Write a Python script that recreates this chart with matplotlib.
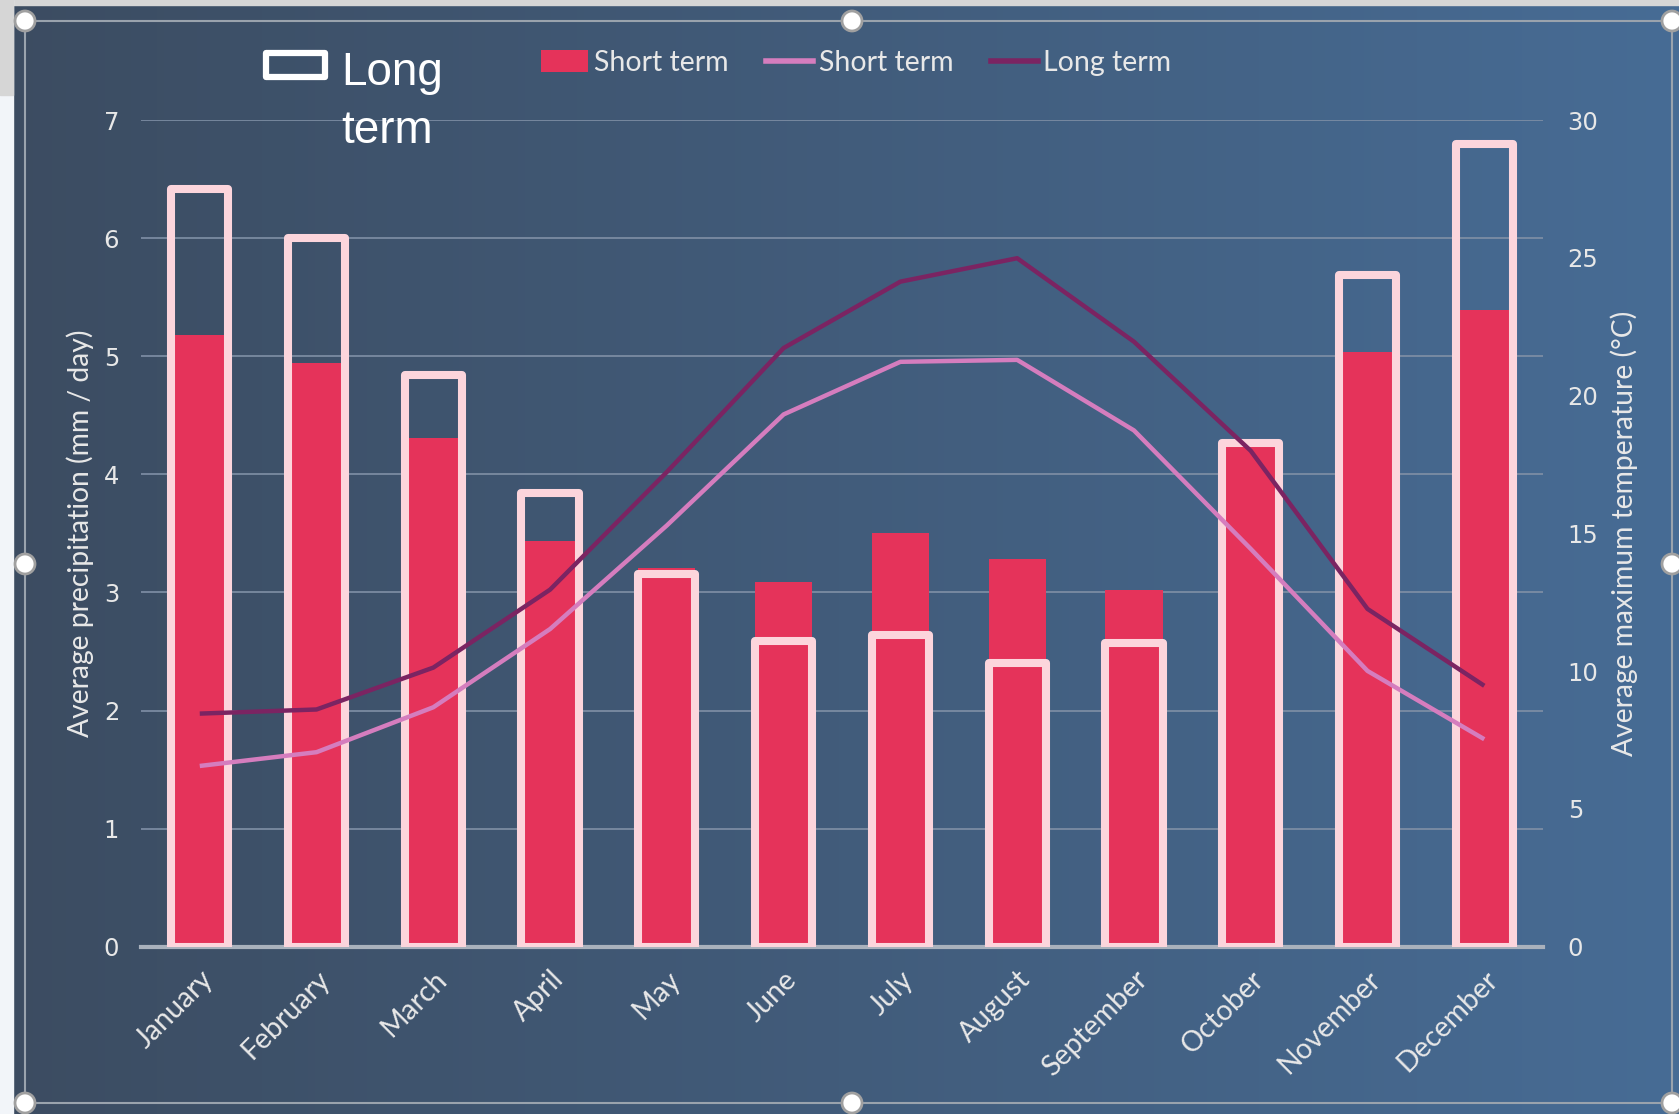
import matplotlib
matplotlib.use("Agg")
import matplotlib.pyplot as plt
import numpy as np
from matplotlib.patches import Rectangle, Circle
from matplotlib.lines import Line2D
from matplotlib.colors import LinearSegmentedColormap

months = ["January", "February", "March", "April", "May", "June", "July",
          "August", "September", "October", "November", "December"]
precip_short = [5.18, 4.94, 4.31, 3.44, 3.21, 3.09, 3.50, 3.28, 3.02, 4.24, 5.04, 5.39]
precip_long = [6.42, 6.00, 4.84, 3.84, 3.16, 2.59, 2.64, 2.40, 2.57, 4.27, 5.69, 6.80]
temp_short = [6.56, 7.06, 8.69, 11.53, 15.29, 19.32, 21.23, 21.30, 18.74, 14.44, 10.01, 7.53]
temp_long = [8.46, 8.61, 10.13, 12.96, 17.23, 21.73, 24.14, 24.99, 21.96, 18.00, 12.26, 9.47]
left_ticks = [0, 1, 2, 3, 4, 5, 6, 7]
right_ticks = [0, 5, 10, 15, 20, 25, 30]

RED = "#E5335A"
OUTLINE = "#FCD5DC"
PINK = "#D57DBE"
PURPLE = "#7B2462"
TXT = "#E8E8E8"

W, H = 1679, 1114
fig = plt.figure(figsize=(W / 100, H / 100), dpi=100)

# background (chart area gradient + screenshot surroundings)
bg = fig.add_axes([0, 0, 1, 1], zorder=-10)
bg.set_axis_off()
grad = np.linspace(0, 1, 256).reshape(1, -1)
cmap = LinearSegmentedColormap.from_list("bg", ["#3C4C61", "#476C95"])
bg.imshow(grad, aspect="auto", cmap=cmap, extent=[0, W, H, 0])
bg.set_xlim(0, W)
bg.set_ylim(H, 0)
bg.add_patch(Rectangle((0, 0), W, 5, color="#D6D6D6"))
bg.add_patch(Rectangle((0, 0), 13, H, color="#F2F5F9"))
bg.add_patch(Rectangle((0, 0), 13, 95, color="#D6D6D6"))
# selection frame of the screenshot
fx0, fy0, fx1, fy1 = 25, 21, 1672, 1103
bg.add_patch(Rectangle((fx0, fy0), fx1 - fx0, fy1 - fy0, fill=False,
                       edgecolor="#9AA3AD", linewidth=1.5))
for hx, hy in [(fx0, fy0), (852, fy0), (fx1, fy0), (fx0, 564), (fx1, 564),
               (fx0, fy1), (852, fy1), (fx1, fy1)]:
    bg.add_patch(Circle((hx, hy), 10, facecolor="white", edgecolor="#A0A0A0",
                        linewidth=2, zorder=5))

# main axes
ax = fig.add_axes([0.0842, 0.1502, 0.9188 - 0.0842, 0.8921 - 0.1502])
ax.set_facecolor("none")
x = np.arange(len(months))
ax.bar(x, precip_short, width=0.49, color=RED, zorder=2)
ax.bar(x, precip_long, width=0.49, facecolor="none", edgecolor=OUTLINE,
       linewidth=5.8, zorder=3, joinstyle="round")
ax.set_xlim(-0.5, len(months) - 0.5)
ax.set_ylim(0, 7)
ax.set_yticks(left_ticks)
ax.set_yticklabels([str(t) for t in left_ticks])
ax.yaxis.grid(True, color="#8090A6", linewidth=1.2, zorder=0)
ax.set_axisbelow(True)
for s in ["top", "right", "left"]:
    ax.spines[s].set_visible(False)
ax.spines["bottom"].set_color("#A9B1BC")
ax.spines["bottom"].set_linewidth(3)
ax.spines["bottom"].set_zorder(1)
ax.tick_params(axis="y", length=0, pad=16, labelsize=17.5, labelcolor=TXT)
ax.tick_params(axis="x", length=0, pad=14)
ax.set_xticks(x)
ax.set_xticklabels(months, rotation=45, ha="right", rotation_mode="anchor",
                   fontsize=20.5, color=TXT, family="Lato")
ax.set_ylabel("Average precipitation (mm / day)", fontsize=20.3, color=TXT,
              family="Lato", labelpad=7)

ax2 = ax.twinx()
ax2.set_ylim(0, 30)
ax2.set_yticks(right_ticks)
ax2.set_yticklabels([str(t) for t in right_ticks])
ax2.plot(x, temp_short, color=PINK, linewidth=3.2, solid_capstyle="butt", zorder=4)
ax2.plot(x, temp_long, color=PURPLE, linewidth=3.2, solid_capstyle="butt", zorder=4)
for s in ax2.spines.values():
    s.set_visible(False)
ax2.tick_params(axis="y", length=0, pad=18, labelsize=17.5, labelcolor=TXT)
ax2.set_ylabel("Average maximum temperature (°C)", fontsize=20.3, color=TXT,
               family="Lato", labelpad=8.5)

# legend (top)
handles = [Rectangle((0, 0), 1, 1, facecolor=RED, edgecolor="none"),
           Line2D([], [], color=PINK, linewidth=4),
           Line2D([], [], color=PURPLE, linewidth=4)]
leg = fig.legend(handles, ["Short term", "Short term", "Long term"],
                 loc="center left", bbox_to_anchor=(541 / W, 1 - 63 / H),
                 ncol=3, frameon=False, handlelength=1.65,
                 handleheight=0.8, handletextpad=0.2, columnspacing=1.32,
                 borderpad=0.0, borderaxespad=0.0,
                 prop={"family": "Lato", "size": 20.5})
for t in leg.get_texts():
    t.set_color(TXT)

# separate legend entry for the outlined bars
fig.patches.append(Rectangle((266 / W, 1 - 77 / H), 59 / W, 24 / H,
                             transform=fig.transFigure, fill=False,
                             edgecolor="white", linewidth=4.5,
                             joinstyle="round"))
fig.text(341 / W, 1 - 51 / H, "Long\nterm", fontsize=33, color="white",
         family="Liberation Sans", va="top", ha="left", linespacing=1.4)

fig.savefig("out.png", dpi=100)
